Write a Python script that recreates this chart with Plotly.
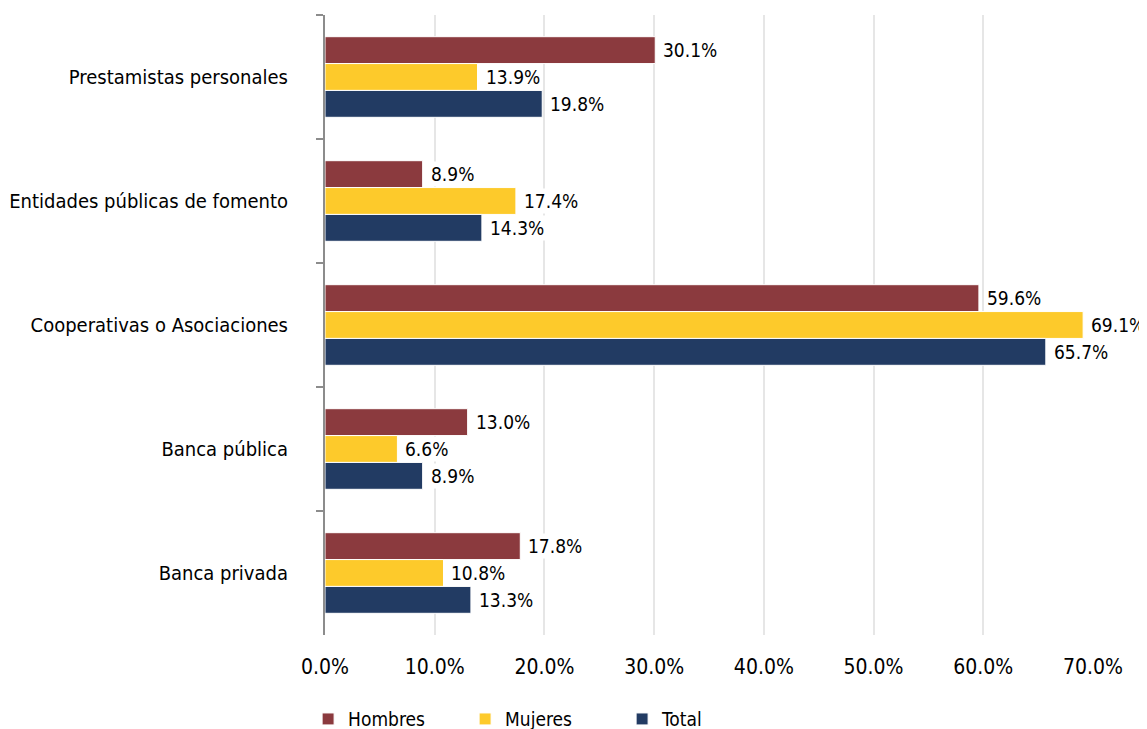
import plotly.graph_objects as go

# categories listed top to bottom as they appear in the chart
categorias = ["Prestamistas personales", "Entidades públicas de fomento",
              "Cooperativas o Asociaciones", "Banca pública", "Banca privada"]
hombres = [30.1, 8.9, 59.6, 13.0, 17.8]
mujeres = [13.9, 17.4, 69.1, 6.6, 10.8]
total = [19.8, 14.3, 65.7, 8.9, 13.3]

series = [
    ("Hombres", hombres, "#8B3A3E"),
    ("Mujeres", mujeres, "#FDCA2B"),
    ("Total", total, "#223B63"),
]

FONT = "DejaVu Sans Condensed, Liberation Sans Narrow, Arial Narrow, sans-serif"

fig = go.Figure()
for name, vals, color in series:
    fig.add_trace(go.Bar(
        y=categorias, x=vals, name=name, orientation="h",
        marker=dict(color=color, line=dict(color="white", width=1)),
        hoverinfo="skip",
    ))

# value labels, one per bar, shifted to the bar's slot in the group
shifts = [27, 0, -27]
for (name, vals, color), ys in zip(series, shifts):
    for cat, v in zip(categorias, vals):
        fig.add_annotation(
            x=v, y=cat, text=f"{v:.1f}%", showarrow=False,
            xanchor="left", xshift=6, yshift=ys,
            bgcolor="white", borderpad=1,
            font=dict(family=FONT, size=19, color="black"),
        )

# page body adds ~8px offset, so the figure is a bit smaller than the window
fig.update_layout(
    width=1139, height=721,
    barmode="group", bargap=0.35, bargroupgap=0,
    plot_bgcolor="white", paper_bgcolor="white",
    margin=dict(l=317, r=54, t=7, b=94, autoexpand=False),
    font=dict(family=FONT, color="black"),
    legend=dict(
        orientation="h", x=-0.022, xanchor="left", y=-0.105, yanchor="top",
        font=dict(size=19), entrywidth=112, entrywidthmode="pixels",
        itemclick=False, bgcolor="rgba(0,0,0,0)",
    ),
)

fig.update_xaxes(
    range=[0, 70], dtick=10, tickformat=".1f", ticksuffix="%",
    showgrid=True, gridcolor="#E6E6E6", gridwidth=2,
    zeroline=False, showline=False, automargin=False,
    tickfont=dict(size=21), ticklabelstandoff=17,
)
fig.update_yaxes(
    autorange="reversed", automargin=False,
    showline=True, linecolor="#8C8C8C", linewidth=2,
    ticks="outside", tickson="boundaries", ticklen=7, tickwidth=2, tickcolor="#8C8C8C",
    tickfont=dict(size=20), ticklabelstandoff=31,
    showgrid=False,
)

fig.write_html("out.html")
